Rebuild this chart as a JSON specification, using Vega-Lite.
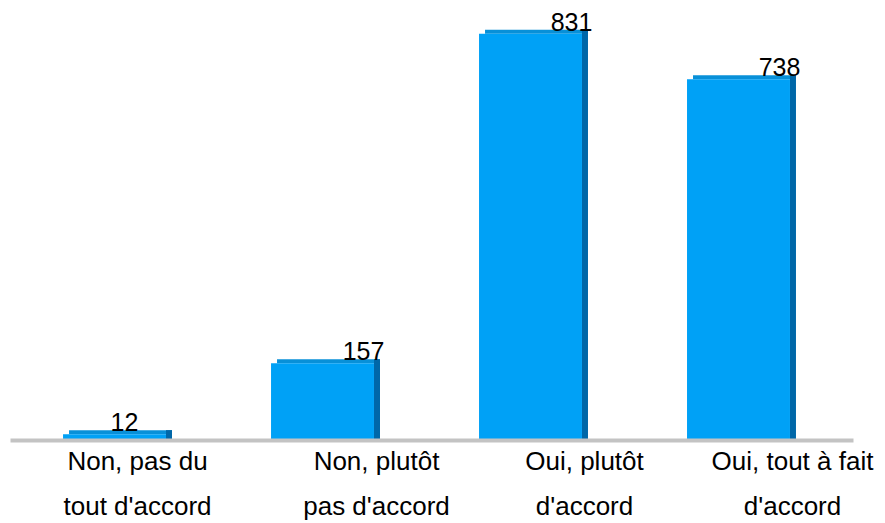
{
  "$schema": "https://vega.github.io/schema/vega-lite/v6.json",
  "width": 885,
  "height": 440,
  "autosize": "none",
  "padding": {"left": 0, "top": 0, "right": 0, "bottom": 83},
  "background": "white",
  "config": {"view": {"stroke": null}, "font": "Liberation Sans"},
  "data": {
    "values": [
      {"reponse": "Non, pas du\ntout d'accord", "effectif": 12},
      {"reponse": "Non, plutôt\npas d'accord", "effectif": 157},
      {"reponse": "Oui, plutôt\nd'accord", "effectif": 831},
      {"reponse": "Oui, tout à fait\nd'accord", "effectif": 738}
    ]
  },
  "encoding": {
    "x": {
      "field": "reponse",
      "type": "nominal",
      "sort": null,
      "scale": {"range": [10, 853], "paddingInner": 0.505, "paddingOuter": 0.279, "align": 0.457},
      "axis": {
        "title": null,
        "ticks": false,
        "labels": false,
        "domainColor": "#c3c3c3",
        "domainWidth": 4
      }
    },
    "y": {
      "field": "effectif",
      "type": "quantitative",
      "scale": {"domain": [0, 900], "nice": false},
      "axis": null
    }
  },
  "layer": [
    {
      "mark": {"type": "rect", "color": "#0890D8", "xOffset": 6, "x2Offset": 6, "yOffset": -4},
      "encoding": {
        "x": {"field": "reponse", "type": "nominal", "sort": null, "bandPosition": 0},
        "x2": {"field": "reponse", "bandPosition": 1},
        "y2": {"field": "effectif"}
      }
    },
    {
      "mark": {"type": "rect", "color": "#0067A8", "x2Offset": 6, "yOffset": -4},
      "encoding": {
        "x": {"field": "reponse", "type": "nominal", "sort": null, "bandPosition": 1},
        "x2": {"field": "reponse", "bandPosition": 1},
        "y2": {"datum": 0}
      }
    },
    {
      "mark": {"type": "bar", "color": "#00A1F6"}
    },
    {
      "transform": [{"filter": "datum.effectif >= 50"}],
      "mark": {"type": "text", "fontSize": 25, "font": "Liberation Sans", "color": "black", "align": "center", "baseline": "alphabetic", "dx": 41, "dy": -3},
      "encoding": {"text": {"field": "effectif", "type": "quantitative"}}
    },
    {
      "transform": [{"filter": "datum.effectif < 50"}],
      "mark": {"type": "text", "fontSize": 25, "font": "Liberation Sans", "color": "black", "align": "center", "baseline": "alphabetic", "dx": 10, "dy": -3},
      "encoding": {"text": {"field": "effectif", "type": "quantitative"}}
    },
    {
      "transform": [{"filter": "datum.effectif >= 50"}],
      "mark": {"type": "text", "fontSize": 26, "font": "Liberation Sans", "color": "black", "align": "center", "baseline": "alphabetic", "lineBreak": "\n", "lineHeight": 45, "dx": 54, "dy": 30},
      "encoding": {"text": {"field": "reponse"}, "y": {"datum": 0}}
    },
    {
      "transform": [{"filter": "datum.effectif < 50"}],
      "mark": {"type": "text", "fontSize": 26, "font": "Liberation Sans", "color": "black", "align": "center", "baseline": "alphabetic", "lineBreak": "\n", "lineHeight": 45, "dx": 23, "dy": 30},
      "encoding": {"text": {"field": "reponse"}, "y": {"datum": 0}}
    }
  ]
}
